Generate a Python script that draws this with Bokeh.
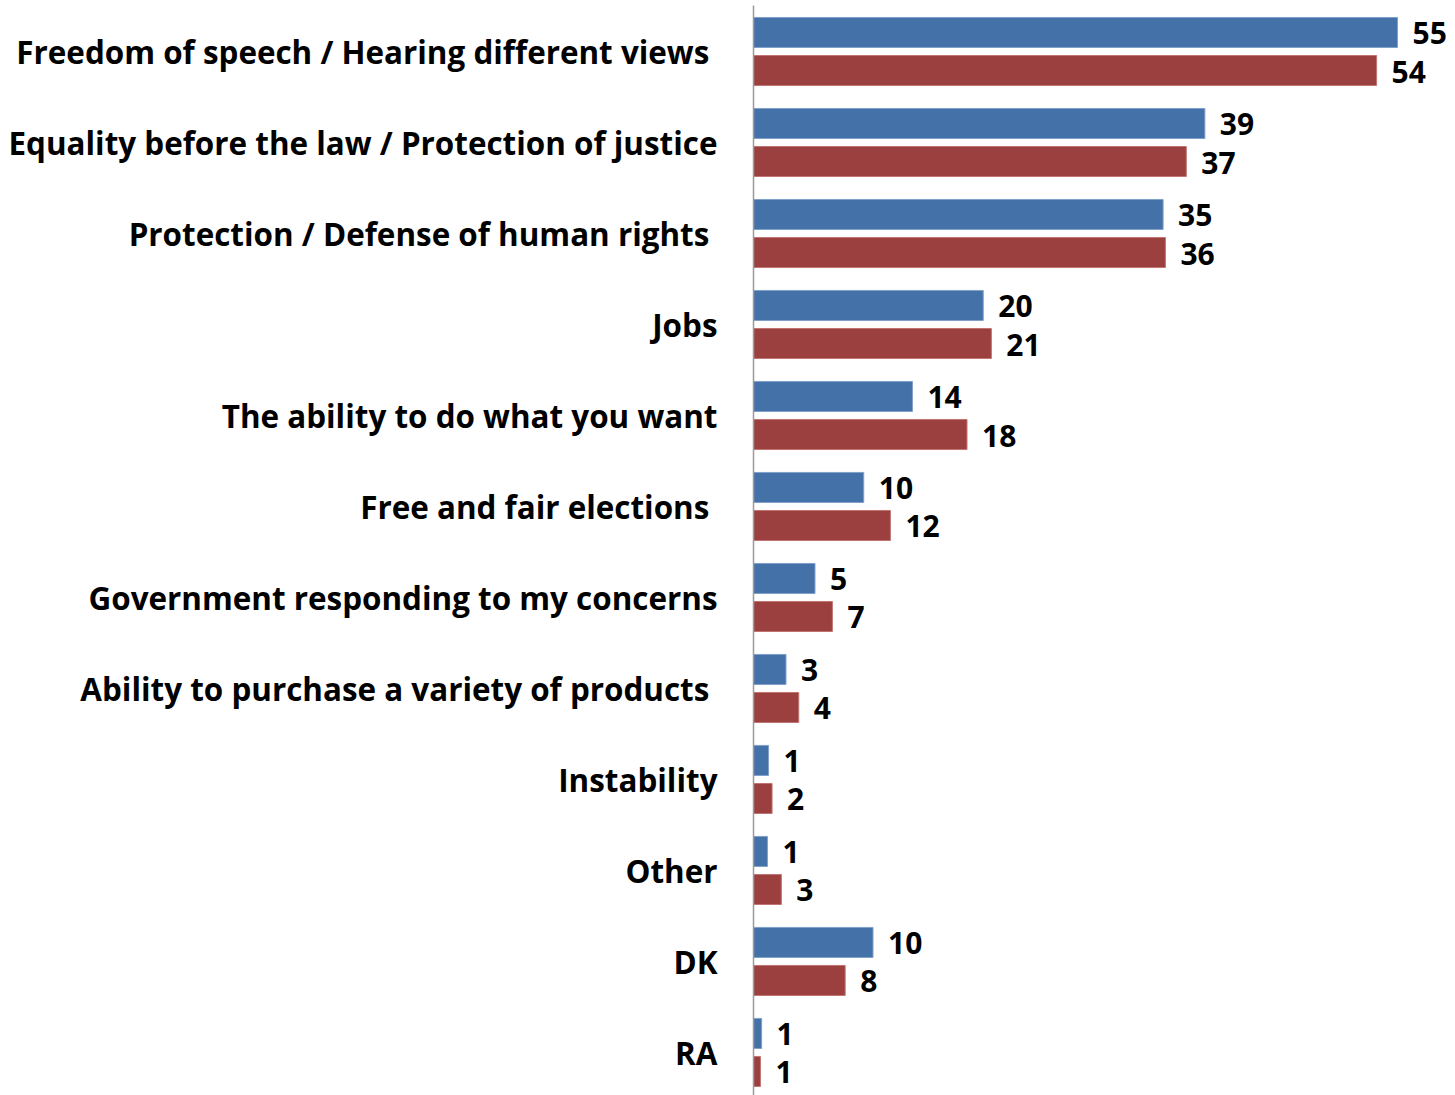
from bokeh.plotting import figure
from bokeh.models import Range1d, FixedTicker, ColumnDataSource
from bokeh.core.properties import value
from bokeh.embed import file_html
from bokeh.resources import INLINE

categories = [
    "Freedom of speech / Hearing different views\u00a0",
    "Equality before the law / Protection of justice",
    "Protection / Defense of human rights\u00a0",
    "Jobs",
    "The ability to do what you want",
    "Free and fair elections\u00a0",
    "Government responding to my concerns",
    "Ability to purchase a variety of products\u00a0",
    "Instability",
    "Other",
    "DK",
    "RA",
]
blue_values = [55.5, 38.9, 35.3, 19.8, 13.7, 9.5, 5.3, 2.8, 1.3, 1.2, 10.3, 0.7]
red_values = [53.7, 37.3, 35.5, 20.5, 18.4, 11.8, 6.8, 3.9, 1.6, 2.4, 7.9, 0.6]
blue_labels = ["55", "39", "35", "20", "14", "10", "5", "3", "1", "1", "10", "1"]
red_labels = ["54", "37", "36", "21", "18", "12", "7", "4", "2", "3", "8", "1"]

BLUE = "#4472A8"
RED = "#9C403F"
FONT = "Open Sans"

idx = list(range(len(categories)))
off = 0.209
bh = 0.33

blue_src = ColumnDataSource(dict(y=[i - off for i in idx], v=blue_values, t=blue_labels))
red_src = ColumnDataSource(dict(y=[i + off for i in idx], v=red_values, t=red_labels))

p = figure(width=1455, height=1095, output_backend="svg", toolbar_location=None,
           x_range=Range1d(0, 60.5), y_range=Range1d(11.473, -0.5055),
           min_border_left=753, min_border_right=0, min_border_top=5, min_border_bottom=0)
p.outline_line_color = None
p.grid.visible = False
p.xaxis.visible = False

p.hbar(y="y", right="v", left=0, height=bh, source=blue_src,
       fill_color=BLUE, line_color="#7FA0C9", line_width=1)
p.hbar(y="y", right="v", left=0, height=bh, source=red_src,
       fill_color=RED, line_color="#C07572", line_width=1)

for src in (blue_src, red_src):
    p.text(x="v", y="y", text="t", source=src, x_offset=15, y_offset=1,
           text_align="left", text_baseline="middle",
           text_font=value(FONT), text_font_style="bold",
           text_font_size="30px", text_color="#000000")

ya = p.yaxis[0]
ya.ticker = FixedTicker(ticks=idx)
ya.major_label_overrides = {i: c for i, c in zip(idx, categories)}
ya.major_label_text_font = FONT
ya.major_label_text_font_style = "bold"
ya.major_label_text_font_size = "31.4px"
ya.major_label_text_color = "#000000"
ya.major_label_standoff = 36
ya.major_tick_out = 0
ya.major_tick_in = 0
ya.minor_tick_out = 0
ya.minor_tick_in = 0
ya.major_tick_line_color = None
ya.minor_tick_line_color = None
ya.axis_line_color = "#9A9A9A"
ya.axis_line_width = 1.5

open("out.html", "w").write(file_html(p, INLINE))
